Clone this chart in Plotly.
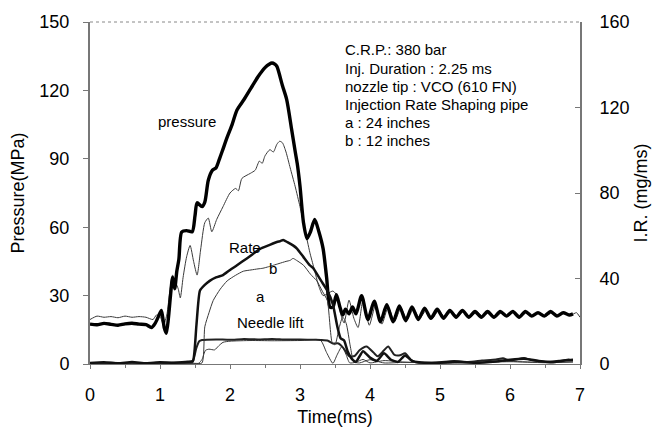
import plotly.graph_objects as go

# ---------------- data ----------------
# Pressure, case a (thick), MPa
t_pa = [0.0, 0.1, 0.2, 0.3, 0.4, 0.5, 0.6, 0.7, 0.8, 0.88, 0.93, 0.98, 1.02, 1.06, 1.09,
        1.12, 1.15, 1.18, 1.21, 1.24, 1.27, 1.31, 1.38, 1.46, 1.5, 1.53, 1.6, 1.64, 1.69,
        1.75, 1.8, 1.85, 1.89, 1.96, 2.03, 2.1, 2.2, 2.3, 2.4, 2.5, 2.56, 2.6, 2.64, 2.67,
        2.75, 2.81, 2.88, 2.93, 2.96, 3.0, 3.05, 3.1, 3.15, 3.21, 3.27, 3.33, 3.38, 3.43,
        3.47, 3.52, 3.57, 3.61, 3.65, 3.7, 3.75, 3.8,
        3.88, 3.97, 4.06, 4.15, 4.24, 4.33, 4.42, 4.51, 4.60, 4.69, 4.78, 4.87, 4.96, 5.05,
        5.14, 5.23, 5.32, 5.41, 5.50, 5.59, 5.68, 5.77, 5.86, 5.95, 6.04, 6.13, 6.22, 6.31,
        6.40, 6.49, 6.58, 6.67, 6.76, 6.85, 6.9]
p_a = [17.5, 17.2, 17.8, 17.4, 17.0, 17.6, 17.9, 17.5, 17.3, 16.0, 17.8, 21.0, 23.5, 16.0, 13.5,
       20.0, 30.0, 38.0, 33.0, 40.7, 46.0, 57.9, 58.5, 58.0, 65.0, 70.7, 69.0, 71.0, 80.6,
       85.0, 86.0, 90.0, 93.4, 99.5, 105.0, 111.4, 116.0, 121.0, 126.0, 130.0, 131.5, 132.0, 131.5, 130.5,
       122.0, 116.0, 103.0, 93.4, 88.0, 78.0, 62.0, 55.0, 58.0, 63.4, 58.0, 50.6, 38.0, 24.9,
       25.0, 30.4, 25.0, 21.5, 24.0, 22.0, 25.0, 22.0,
       30.0, 19.5, 27.5, 18.5, 26.0, 18.5, 25.5, 19.0, 25.0, 19.5, 24.5, 20.0, 24.0, 20.0,
       23.5, 20.5, 23.5, 20.5, 23.0, 20.5, 23.0, 20.5, 23.0, 21.0, 23.0, 20.5, 23.0, 21.0,
       22.5, 21.0, 23.0, 21.0, 22.5, 21.5, 22.0]

# Pressure, case b (thin), MPa
t_pb = [0.0, 0.1, 0.2, 0.3, 0.4, 0.5, 0.6, 0.7, 0.8, 0.9, 0.95, 1.0, 1.05, 1.1, 1.14, 1.18,
        1.22, 1.26, 1.29, 1.33, 1.38, 1.43, 1.48, 1.53, 1.58, 1.64, 1.69, 1.74, 1.81, 1.9,
        2.0, 2.08, 2.12, 2.17, 2.29, 2.36, 2.42, 2.46, 2.5, 2.57, 2.62, 2.67, 2.71, 2.75,
        2.8, 2.86, 2.93, 3.0, 3.07, 3.14, 3.2, 3.27, 3.33, 3.4, 3.47, 3.53, 3.58, 3.63, 3.7,
        3.77, 3.83, 3.9, 3.99, 4.08, 4.17, 4.26, 4.35, 4.44, 4.53, 4.62, 4.71, 4.80, 4.89,
        4.98, 5.07, 5.16, 5.25, 5.34, 5.43, 5.52, 5.61, 5.70, 5.79, 5.88, 5.97, 6.06, 6.15,
        6.24, 6.33, 6.42, 6.51, 6.60, 6.69, 6.78, 6.87, 6.95, 7.0]
p_b = [19.5, 21.0, 20.5, 20.8, 20.3, 21.0, 20.5, 20.8, 20.5, 19.5, 21.5, 21.0, 17.0, 22.0, 32.0, 39.0,
       36.0, 33.0, 29.0, 38.0, 47.0, 52.0, 45.0, 39.0, 50.0, 62.0, 64.0, 58.0, 63.4, 69.0,
       75.0, 77.0, 76.0, 81.4, 83.6, 85.0, 89.0, 88.0, 91.3, 94.0, 93.0, 96.4, 97.7, 97.0,
       93.0, 86.0, 78.0, 69.0, 59.0, 49.0, 42.0, 34.0, 30.0, 31.0, 32.0, 30.0, 22.0, 18.0, 28.0,
       20.0, 16.0, 28.0, 17.0, 26.0, 17.5, 25.0, 18.5, 24.5, 19.5, 24.0, 20.0, 23.5, 20.0,
       23.5, 20.5, 23.0, 21.0, 23.0, 20.5, 23.0, 21.0, 23.0, 20.5, 22.5, 21.0, 23.0, 21.0,
       22.5, 21.0, 22.5, 21.0, 22.5, 21.5, 22.5, 21.5, 22.5, 20.5]

# Injection rate, case a (thick), mg/ms
t_ra = [0.0, 0.2, 0.4, 0.6, 0.8, 1.0, 1.2, 1.4, 1.47, 1.52, 1.57, 1.64, 1.71, 1.8, 1.9, 2.0,
        2.1, 2.24, 2.35, 2.43, 2.55, 2.67, 2.72, 2.76, 2.82, 2.9, 2.96, 3.05, 3.14, 3.19,
        3.3, 3.39, 3.47, 3.53, 3.58, 3.63, 3.68, 3.75, 3.8, 3.9, 4.0, 4.1, 4.2, 4.3, 4.4,
        4.5, 4.6, 4.7, 4.9, 5.2, 5.5, 5.8, 6.0, 6.2, 6.4, 6.6, 6.8, 6.9]
r_a = [0.5, 0.8, 0.3, 0.9, 0.4, 0.8, 0.6, 1.0, 1.5, 18.0, 34.3, 37.0, 38.9, 40.5, 41.6, 44.0,
       46.2, 49.4, 52.0, 53.9, 55.5, 57.1, 57.5, 58.0, 57.0, 55.5, 53.9, 50.0, 46.2, 44.8,
       39.0, 34.3, 27.9, 18.0, 12.0, 11.0, 6.0, 2.0, 1.0, 6.0, 3.0, 1.5, 5.0, 2.0, 1.0,
       4.0, 1.5, 0.8, 0.5, 1.0, 0.6, 1.2, 2.0, 2.5, 1.5, 0.8, 1.8, 2.0]

# Injection rate, case b (thin), mg/ms
t_rb = [0.0, 0.3, 0.6, 0.9, 1.2, 1.5, 1.6, 1.64, 1.7, 1.76, 1.86, 1.96, 2.08, 2.19, 2.3, 2.4,
        2.47, 2.55, 2.62, 2.7, 2.8, 2.86, 2.9, 2.95, 3.05, 3.15, 3.24, 3.32, 3.39, 3.46, 3.5,
        3.56, 3.61, 3.66, 3.72, 3.77, 3.85, 4.0, 4.2, 4.5, 5.0, 5.5, 6.0, 6.5, 6.9]
r_b = [0.3, 0.6, 0.2, 0.5, 0.4, 0.3, 0.5, 17.4, 24.0, 29.7, 35.0, 38.9, 41.5, 43.4, 44.0, 44.5,
       44.8, 45.5, 46.2, 47.0, 48.0, 48.5, 49.4, 48.5, 46.2, 42.0, 38.9, 34.0, 29.7, 10.0, 9.0,
       17.0, 22.0, 19.0, 8.0, 1.0, 0.5, 2.0, 0.5, 0.8, 0.4, 0.9, 1.2, 0.6, 1.0]

# Needle lift, case a (thick), plotted on the pressure scale
t_na = [0.0, 0.3, 0.6, 0.9, 1.2, 1.45, 1.47, 1.52, 1.56, 1.6, 1.8, 2.0, 2.2, 2.4, 2.6, 2.8, 3.0,
        3.2, 3.3, 3.4, 3.47, 3.55, 3.62, 3.7, 3.78, 3.85, 3.95, 4.05, 4.11, 4.2, 4.26, 4.35,
        4.43, 4.5, 4.58, 4.65, 4.8, 5.0, 5.2, 5.4, 5.6, 5.8, 5.9, 6.0, 6.2, 6.3, 6.5, 6.7, 6.85]
n_a = [0.3, 0.5, 0.2, 0.4, 0.6, 0.5, 1.0, 7.0, 10.0, 10.5, 10.8, 10.6, 11.0, 10.8, 11.0, 10.7, 10.8,
       10.6, 10.5, 10.2, 9.0, 9.0, 7.0, 3.5, 3.5, 6.0, 7.7, 5.0, 3.4, 6.0, 7.7, 4.0,
       3.8, 4.7, 2.0, 0.8, 0.5, 0.8, 1.3, 0.9, 1.5, 2.0, 2.5, 1.5, 2.6, 1.8, 1.0, 1.4, 2.0]

# Needle lift, case b (thin)
t_nb = [0.0, 0.5, 1.0, 1.55, 1.6, 1.65, 1.7, 1.78, 1.84, 1.9, 2.0, 2.3, 2.6, 3.0, 3.29, 3.38,
        3.47, 3.53, 3.6, 3.66, 3.71, 3.8, 3.9, 4.0, 4.2, 4.5, 5.0, 5.5, 6.0, 6.5, 6.9]
n_b = [0.2, 0.3, 0.2, 0.3, 2.0, 6.0, 6.5, 6.2, 8.0, 9.5, 10.0, 10.3, 10.2, 10.3, 10.5, 5.0,
       0.3, 4.0, 7.7, 4.0, 0.5, 0.8, 2.0, 0.5, 1.5, 0.8, 0.4, 0.6, 1.0, 0.7, 0.9]

x_ticks = [0, 1, 2, 3, 4, 5, 6, 7]
p_ticks = [0, 30, 60, 90, 120, 150]
ir_ticks = [0, 40, 80, 120, 160]

info_lines = ["C.R.P.: 380 bar", "Inj. Duration : 2.25 ms", "nozzle tip : VCO (610 FN)",
              "Injection Rate Shaping pipe", "a : 24 inches", "b : 12 inches"]

# ---------------- figure ----------------
FONT = "Arial, Liberation Sans, sans-serif"
fig = go.Figure()

thin = dict(color="#3a3a3a", width=1, shape="spline", smoothing=0.6)
fig.add_trace(go.Scatter(x=t_pb, y=p_b, mode="lines", line=thin, yaxis="y"))
fig.add_trace(go.Scatter(x=t_rb, y=r_b, mode="lines", line=thin, yaxis="y2"))
fig.add_trace(go.Scatter(x=t_nb, y=n_b, mode="lines", line=thin, yaxis="y"))
fig.add_trace(go.Scatter(x=t_na, y=n_a, mode="lines",
                         line=dict(color="#222", width=2, shape="spline", smoothing=0.6), yaxis="y"))
fig.add_trace(go.Scatter(x=t_ra, y=r_a, mode="lines",
                         line=dict(color="#111", width=2.5, shape="spline", smoothing=0.5), yaxis="y2"))
fig.add_trace(go.Scatter(x=t_pa, y=p_a, mode="lines",
                         line=dict(color="black", width=3.4, shape="spline", smoothing=0.7), yaxis="y"))

axis_col = "#777"
fig.update_layout(
    width=663, height=435,
    margin=dict(l=90, r=83, t=18, b=67),
    paper_bgcolor="white", plot_bgcolor="white",
    showlegend=False,
    font=dict(family=FONT, size=18, color="black"),
    xaxis=dict(range=[0, 7], tickvals=x_ticks, showgrid=False, zeroline=False,
               showline=True, linecolor=axis_col, linewidth=1,
               ticks="outside", ticklen=4, tickcolor=axis_col,
               minor=dict(dtick=0.5, ticks="outside", ticklen=3, tickcolor=axis_col),
               ticklabelstandoff=10,
               title=dict(text="Time(ms)", standoff=6, font=dict(size=18))),
    yaxis=dict(range=[0, 150], tickvals=p_ticks, showgrid=False, zeroline=False,
               showline=True, linecolor=axis_col, linewidth=2,
               ticks="outside", ticklen=5, tickcolor=axis_col,
               ticklabelstandoff=10,
               title=dict(text="Pressure(MPa)", standoff=10, font=dict(size=18))),
    yaxis2=dict(range=[0, 160], tickvals=ir_ticks, overlaying="y", side="right",
                showgrid=False, zeroline=False,
                showline=True, linecolor=axis_col, linewidth=2,
                ticks="inside", ticklen=5, tickcolor=axis_col,
                ticklabelstandoff=14,
                title=dict(text="I.R. (mg/ms)", standoff=6, font=dict(size=18))),
)

# dotted top border
fig.add_shape(type="line", xref="paper", yref="paper", x0=0, x1=1, y0=1, y1=1,
              line=dict(color="#888", width=1, dash="dot"))

# curve labels
labels = [("pressure", 1.386, 106.3), ("Rate", 2.21, 51.0), ("b", 2.61, 42.0),
          ("a", 2.43, 29.6), ("Needle lift", 2.59, 18.0)]
for txt, lx, ly in labels:
    fig.add_annotation(x=lx, y=ly, xref="x", yref="y", text=txt, showarrow=False,
                       font=dict(family=FONT, size=15, color="black"),
                       bgcolor="rgba(0,0,0,0)")

# info block (pixel positions converted to paper fractions)
plot_w = 663 - 90 - 83
plot_h = 435 - 18 - 67
for i, line in enumerate(info_lines):
    py = 46.5 + 18.6 * i
    fig.add_annotation(x=(343 - 90) / plot_w, y=(368 - py) / plot_h,
                       xref="paper", yref="paper",
                       text=line, showarrow=False, xanchor="left", yanchor="middle",
                       font=dict(family=FONT, size=15, color="black"))

fig.write_html("out.html")
